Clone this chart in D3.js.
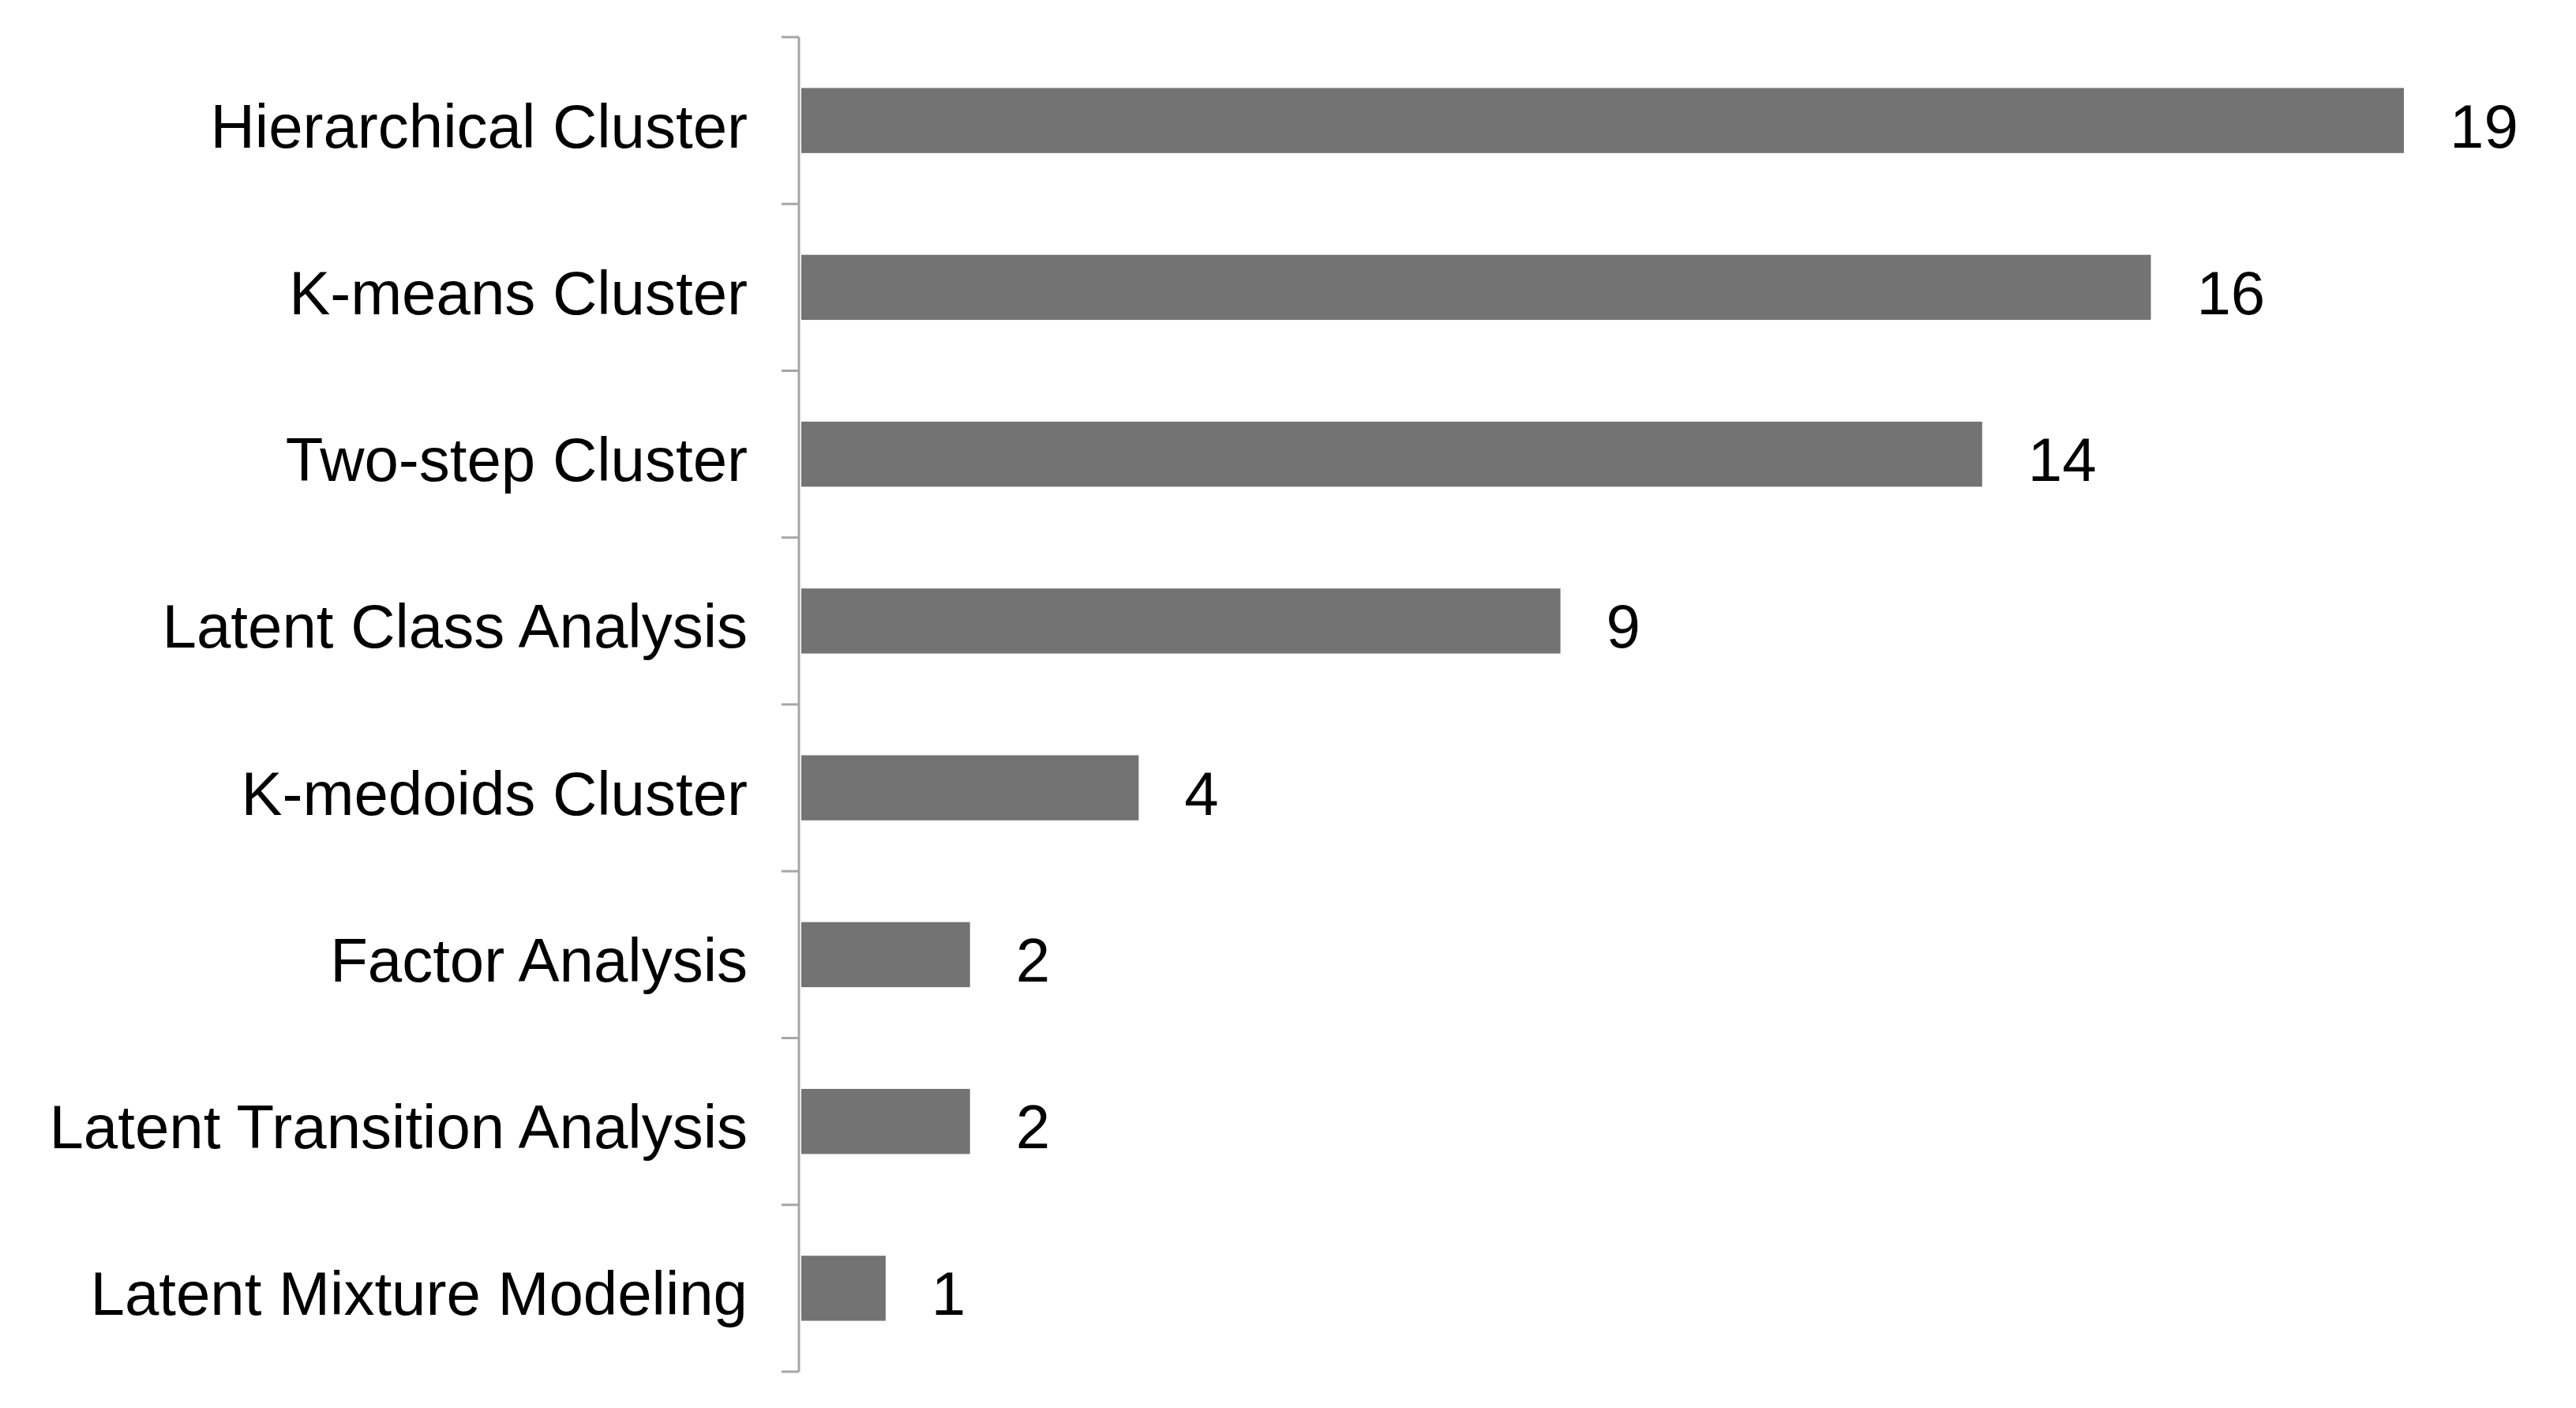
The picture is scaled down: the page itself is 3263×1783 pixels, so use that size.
<!DOCTYPE html>
<html><head><meta charset="utf-8">
<script src="https://cdn.jsdelivr.net/npm/d3@7"></script>
<style>html,body{margin:0;padding:0;background:#fff;}</style>
</head><body>
<script>
const categories = ["Hierarchical Cluster","K-means Cluster","Two-step Cluster","Latent Class Analysis","K-medoids Cluster","Factor Analysis","Latent Transition Analysis","Latent Mixture Modeling"];
const values = [19,16,14,9,4,2,2,1];

const W = 3263, H = 1783;
const axisX = 1012, plotTop = 47, plotBottom = 1737;
const svg = d3.select("body").append("svg").attr("width", W).attr("height", H);

const y = d3.scaleBand().domain(categories).range([plotTop, plotBottom]).padding(0);
const x = d3.scaleLinear().domain([0, 19]).range([axisX + 3, 3045]);
const barH = y.bandwidth() * 0.39;
const font = "Liberation Sans, Arial, sans-serif";
const axisColor = "#a6a6a6";

// bars
svg.selectAll("rect.bar").data(values).enter().append("rect")
  .attr("x", x(0))
  .attr("y", (d,i) => y(categories[i]) + (y.bandwidth() - barH) / 2)
  .attr("width", d => x(d) - x(0))
  .attr("height", barH)
  .attr("fill", "#737373");

// axis line
svg.append("line").attr("x1", axisX).attr("x2", axisX).attr("y1", plotTop).attr("y2", plotBottom)
  .attr("stroke", axisColor).attr("stroke-width", 3);
// boundary ticks
const bounds = categories.map(c => y(c)).concat([plotBottom]);
svg.selectAll("line.tick").data(bounds).enter().append("line")
  .attr("x1", axisX - 22).attr("x2", axisX).attr("y1", d => d).attr("y2", d => d)
  .attr("stroke", axisColor).attr("stroke-width", 3);

// category labels
svg.selectAll("text.cat").data(categories).enter().append("text")
  .attr("x", 947)
  .attr("y", d => y(d) + y.bandwidth() / 2 + 34)
  .attr("text-anchor", "end")
  .attr("font-family", font).attr("font-size", 78).attr("fill", "#000")
  .text(d => d);

// value labels
svg.selectAll("text.val").data(values).enter().append("text")
  .attr("x", d => x(d) + 58)
  .attr("y", (d,i) => y(categories[i]) + y.bandwidth() / 2 + 34)
  .attr("font-family", font).attr("font-size", 78).attr("fill", "#000")
  .text(d => d);
</script>
</body></html>
